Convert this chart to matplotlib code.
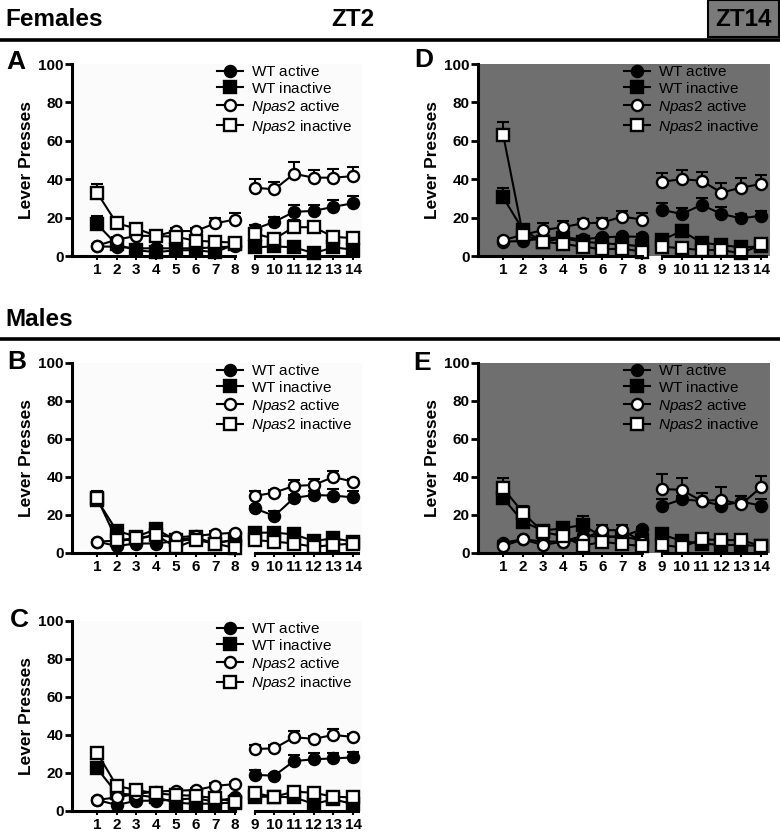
import matplotlib
matplotlib.use('Agg')
import matplotlib.pyplot as plt
from matplotlib.lines import Line2D
from matplotlib.patches import Rectangle
import numpy as np

plt.rcParams['font.family'] = 'Liberation Sans'
plt.rcParams['mathtext.fontset'] = 'custom'
plt.rcParams['mathtext.it'] = 'Liberation Sans:italic'
plt.rcParams['mathtext.rm'] = 'Liberation Sans'

days = np.arange(1, 15)
labels = [r'$\mathrm{WT}$ active', r'$\mathrm{WT}$ inactive',
          r'$\mathit{Npas2}$ active', r'$\mathit{Npas2}$ inactive']

# rows: WT active, WT inactive, Npas2 active, Npas2 inactive
A_mean = [[5, 4.8, 4, 4, 4, 4, 4.5, 5, 14, 17.8, 23, 23.5, 25.6, 27.5],
          [16.6, 6, 3, 2, 3, 3, 2, 6, 4.5, 5, 4.5, 1.5, 4.5, 3.3],
          [5.4, 8.5, 10.5, 10.5, 13, 13, 17, 19, 35.6, 34.7, 42.8, 40.8, 40.8, 41.6],
          [33, 17, 14.3, 10.5, 10, 8, 7.4, 7, 11.7, 9, 15, 15, 10, 9.3]]
A_err = [[1, 1, 1, 1, 1, 1, 1.5, 2, 2, 2.5, 3.5, 3, 3.5, 3.5],
         [4, 1, 1, 1, 1, 1, 1, 1.5, 1, 1, 1, 1, 1, 1],
         [1, 1.5, 1.5, 1, 1.5, 1.5, 3, 3.5, 4.5, 4, 6, 4, 4.5, 4.5],
         [4.5, 1.5, 1.5, 1, 1, 1, 1, 1, 1.5, 1.5, 4, 2.5, 2, 1.5]]

D_mean = [[7.5, 7.8, 9.2, 9.7, 8.7, 9.7, 10.2, 10, 24, 21.9, 26.6, 21.9, 19.6, 21],
          [30.5, 13.5, 7.5, 9.2, 7.5, 6.6, 6, 5, 8.3, 13, 7, 5.7, 4.5, 5],
          [8.3, 11, 13.5, 15, 17, 17.4, 20.5, 19, 38.7, 40, 39.2, 33, 35.6, 37.5],
          [63, 11, 7.5, 6.3, 4.9, 3.5, 3.8, 2.3, 4.9, 4, 3.1, 3.1, 1.4, 6]]
D_err = [[1, 1, 1, 1, 1, 1, 1.5, 1.5, 3.5, 3, 3.5, 3.5, 2.5, 2.5],
         [5, 1.5, 1.5, 1.5, 1, 1, 1, 1, 1.5, 3, 1, 1, 1, 1],
         [1, 1, 3.5, 3, 2.5, 2.5, 3, 3.5, 4.5, 5, 4.5, 5, 5, 4.5],
         [7, 1, 1, 1, 1, 1, 1, 1, 1, 1, 1, 1, 1, 1]]

B_mean = [[6, 3.7, 5, 5, 6.3, 7.2, 5.4, 6.8, 23.5, 19.5, 29, 30.5, 30.2, 29.3],
          [28, 11.7, 8.6, 12.5, 6.8, 8.2, 5, 7.2, 10.7, 10.7, 9.8, 6.3, 7.7, 6],
          [6, 6.5, 7.2, 9.5, 8.2, 9, 10, 10.7, 30, 31.8, 35.3, 35.8, 40, 37.5],
          [29, 6.8, 7.7, 9.5, 3, 6.8, 5, 2.6, 6.8, 6, 5, 3.3, 4.2, 5]]
B_err = [[1, 1, 1, 1, 1, 1, 1, 1, 1.5, 2.5, 1.5, 2, 3.5, 3.5],
         [4.5, 1.5, 1.5, 2.5, 1, 1, 1, 1, 1, 1, 1, 1, 1, 1],
         [1, 1, 1.5, 2, 1.5, 1.5, 1.5, 1, 2.5, 1.5, 3, 3, 3, 1.5],
         [3, 1, 1, 1, 1, 1, 1, 1, 1, 1, 1, 1, 1, 1]]

E_mean = [[5.4, 7.2, 6, 6, 9, 8.6, 8.6, 12.5, 24.7, 28.2, 27.4, 25, 27, 25],
          [28.8, 16.5, 11.8, 13, 14.7, 8.6, 8.6, 6.8, 9.8, 6.3, 5, 4.2, 4.2, 3.7],
          [3.7, 7.2, 4.2, 6, 7.2, 12, 12, 6, 33.7, 33.2, 27.4, 28, 25.6, 34.6],
          [34, 21.2, 11, 9, 3.7, 6, 4.6, 3.7, 4.2, 3, 7.2, 6.8, 6.8, 3.7]]
E_err = [[1, 1, 1, 1, 1, 1, 1, 1, 3.5, 2, 4, 2, 3, 3.5],
         [3, 2, 1.5, 1.5, 5, 1.5, 1.5, 1.5, 1, 1, 1, 1, 1, 1],
         [1, 1, 1, 1, 1, 2.5, 2.5, 1, 8, 6.5, 4, 6.5, 4.5, 6],
         [5.5, 3.5, 1.5, 1.5, 1.5, 1.5, 1.5, 1, 1, 1, 1, 1, 1, 1]]

C_mean = [[5.8, 3.2, 5.4, 5.4, 6, 6.7, 4.9, 7.2, 19, 18.6, 26.3, 27.2, 27.7, 28.2],
          [22.5, 9.3, 8.4, 7.2, 4.4, 3.7, 4, 4.4, 7.5, 7.5, 7.2, 3.7, 6.1, 3.7],
          [5.8, 7.2, 9, 10.2, 10.7, 11, 13.2, 14.2, 32.6, 33, 38.8, 38, 40, 39],
          [30.7, 13.2, 11, 9.3, 8.4, 8, 6.7, 4.9, 9.3, 7.5, 10.2, 9.6, 7.5, 7.2]]
C_err = [[1, 1, 1, 1, 1, 1, 1, 1, 2.5, 1, 3, 3.5, 3, 3],
         [3, 1, 1, 1, 1, 1, 1, 1, 1, 1, 1, 1, 1, 1],
         [1, 1, 1, 1, 1, 1, 1.5, 1, 2, 1.5, 3.5, 1.5, 3, 1.5],
         [2.5, 1.5, 1.5, 1, 1, 1, 1.5, 1, 1, 1, 1, 1, 1, 1]]

W, H = 780, 834
DARK = '#6f6f6f'
LIGHT = '#fbfbfb'
markers = ['o', 's', 'o', 's']
faces = ['black', 'black', 'white', 'white']


def rect(l, t, r, b):
    return [l / W, 1 - b / H, (r - l) / W, (b - t) / H]


def panel(fig, pos, mean, err, bg, letter, letter_xy):
    ax = fig.add_axes(rect(*pos))
    ax.set_facecolor(bg)
    ax.set_xlim(-0.27, 14.45)
    ax.set_ylim(0, 100)
    handles = []
    for i in range(4):
        m = np.array(mean[i], dtype=float)
        e = np.array(err[i], dtype=float)
        ax.errorbar(days, m, yerr=[np.zeros_like(e), e], fmt='none', ecolor='black',
                    elinewidth=1.5, capsize=4.5, capthick=1.5, zorder=3, clip_on=False)
        for seg in (slice(0, 8), slice(8, 14)):
            h, = ax.plot(days[seg], m[seg], color='black', lw=1.5, marker=markers[i],
                         markersize=8, markerfacecolor=faces[i], markeredgecolor='black',
                         markeredgewidth=1.7, zorder=4 + i * 0.1, clip_on=False)
        handles.append(h)
    ax.legend(handles, labels, loc='upper left', bbox_to_anchor=(0.5, 1.0),
              frameon=False, fontsize=11, handlelength=1.7, handletextpad=0.5,
              labelspacing=0.12, borderpad=0, borderaxespad=0)
    for s in ('top', 'right', 'bottom'):
        ax.spines[s].set_visible(False)
    ax.spines['left'].set_linewidth(2.2)
    xt = ax.get_xaxis_transform()
    ax.plot([-0.27, 8], [0, 0], color='black', lw=2.2, transform=xt, clip_on=False, zorder=6)
    ax.plot([9, 14.25], [0, 0], color='black', lw=2.2, transform=xt, clip_on=False, zorder=6)
    ax.set_yticks([0, 20, 40, 60, 80, 100])
    ax.set_xticks(days)
    ax.tick_params(axis='y', direction='out', length=5, width=2, labelsize=11, pad=1)
    ax.tick_params(axis='x', direction='out', length=3, width=1.5, labelsize=11, pad=2)
    for t in ax.get_xticklabels() + ax.get_yticklabels():
        t.set_fontweight('bold')
    ax.set_ylabel('Lever Presses', fontsize=12.5, fontweight='bold', labelpad=3)
    fig.text(letter_xy[0] / W, 1 - letter_xy[1] / H, letter, fontsize=19,
             fontweight='bold', ha='center', va='center')
    return ax


fig = plt.figure(figsize=(7.8, 8.34), dpi=100)

# header bands
fig.text(5 / W, 1 - 20 / H, 'Females', fontsize=17.5, fontweight='bold', va='center')
fig.text(353 / W, 1 - 20 / H, 'ZT2', fontsize=17.5, fontweight='bold', va='center', ha='center')
fig.patches.append(Rectangle((708 / W, 1 - 37 / H), 71 / W, 37 / H, facecolor='#7a7a7a',
                             edgecolor='black', lw=1.5, transform=fig.transFigure))
fig.text(744 / W, 1 - 20 / H, 'ZT14', fontsize=17.5, fontweight='bold', va='center', ha='center')
fig.add_artist(Line2D([0, 1], [1 - 40 / H] * 2, lw=2.6, color='black'))
fig.text(5 / W, 1 - 320 / H, 'Males', fontsize=17.5, fontweight='bold', va='center')
fig.add_artist(Line2D([0, 1], [1 - 339 / H] * 2, lw=2.6, color='black'))

panel(fig, (72, 64, 362, 256), A_mean, A_err, LIGHT, 'A', (16, 62))
panel(fig, (478, 64, 770, 256), D_mean, D_err, DARK, 'D', (424, 60))
panel(fig, (72, 363, 362, 553), B_mean, B_err, LIGHT, 'B', (17, 362))
panel(fig, (478, 363, 770, 553), E_mean, E_err, DARK, 'E', (422, 363))
panel(fig, (72, 621, 362, 811), C_mean, C_err, LIGHT, 'C', (19, 620))

fig.savefig('out.png', dpi=100)
